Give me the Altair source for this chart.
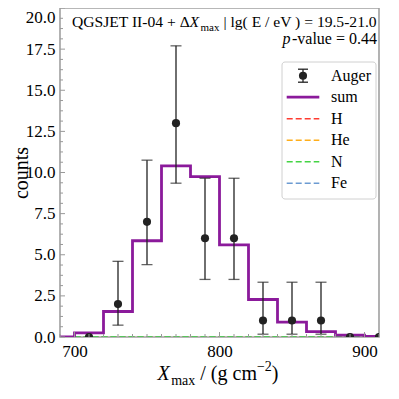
import altair as alt
import pandas as pd

# ---------------- data ----------------
bin_edges = [690, 700, 720, 740, 760, 780, 800, 820, 840, 860, 880, 900, 910]
sum_counts = [0.0, 0.25, 1.55, 5.85, 10.4, 9.75, 5.6, 2.28, 0.9, 0.33, 0.12, 0.03, 0.03]

comp_edges = [700, 720, 740, 760, 780, 800, 820, 840, 860, 880, 900, 910]
H_counts = [0.0] * 12
He_counts = [0.0] * 12
N_counts = [0.0] * 12
Fe_counts = [0.0] * 12

xmax_points = [710, 730, 750, 770, 790, 810, 830, 850, 870, 890, 910]
auger_counts = [0, 2, 7, 13, 6, 6, 1, 1, 1, 0, 0]
err_low = [0, 0.72, 4.4, 9.35, 3.5, 3.5, 0.17, 0.17, 0.17, 0, 0]
err_high = [0, 4.6, 10.75, 17.7, 9.65, 9.65, 3.33, 3.33, 3.33, 0, 0]

x_major = [700, 800, 900]
x_minor = [v for v in range(690, 911, 10) if v not in x_major]
y_major = [0, 2.5, 5, 7.5, 10, 12.5, 15, 17.5, 20]
y_minor = [i * 0.625 for i in range(33) if (i % 4) != 0]

legend_labels = ["Auger", "sum", "H", "He", "N", "Fe"]
legend_colors = ["#222222", "#8b1a9b", "#ff3b30", "#ffae1a", "#44d444", "#6c9bd2"]

TS = 15.6
title_line1 = [("QGSJET II-04 + Δ", "normal", TS, 0), ("X", "italic", TS, 0),
               ("max", "normal", 11, 4), (" | lg( E / eV ) = 19.5-21.0", "normal", TS, 0)]
title_line2 = [("p", "italic", 16, 0), ("-value = 0.44", "normal", 16, 0)]
xtitle_parts = [("X", "italic", 20, 0), ("max", "normal", 14, 5), (" / (g cm", "normal", 20, 0),
                ("−2", "normal", 14, -9), (")", "normal", 20, 0)]

# ---------------- layout ----------------
W, H = 319, 329
FONT = "Liberation Serif"
XDOM = [690, 910]
YDOM = [0, 20]

TIMES = {' ': 250, '(': 333, ')': 333, '+': 564, '-': 333, '.': 250, '/': 278, '=': 564,
         '|': 200, 'A': 722, 'E': 611, 'G': 722, 'I': 333, 'J': 389, 'Q': 722, 'S': 556,
         'T': 611, 'V': 722, 'X': 611, 'a': 444, 'c': 444, 'e': 444, 'g': 500, 'l': 278,
         'm': 778, 'p': 500, 'r': 333, 's': 389, 'u': 500, 'v': 500, 'x': 500, 'Δ': 612,
         '−': 564}


def tw(s, size):
    return sum(TIMES.get(c, 500) for c in s) * size / 1000.0


one = pd.DataFrame({"k": [0]})


def text_run(parts, x0, y0, color="black"):
    layers = []
    x = x0
    for s, style, size, dy in parts:
        stripped = s.lstrip(" ")
        lead = tw(s[:len(s) - len(stripped)], size)
        layers.append(
            alt.Chart(one).mark_text(text=stripped, font=FONT, fontSize=size, fontStyle=style,
                                     align="left", baseline="alphabetic", color=color)
            .encode(x=alt.value(x + lead), y=alt.value(y0 + dy)))
        x += tw(s, size) + (1.5 if style == "italic" else 0)
    return layers


def run_width(parts):
    return sum(tw(s, size) + (1.5 if st == "italic" else 0) for s, st, size, _ in parts)


xs = alt.Scale(domain=XDOM, nice=False, zero=False)
ys = alt.Scale(domain=YDOM, nice=False)

# ---------------- main marks ----------------
step_df = pd.DataFrame({"x": bin_edges, "y": sum_counts})
comp_frames = {
    "H": pd.DataFrame({"x": comp_edges, "y": H_counts}),
    "He": pd.DataFrame({"x": comp_edges, "y": He_counts}),
    "Fe": pd.DataFrame({"x": comp_edges, "y": Fe_counts}),
    "N": pd.DataFrame({"x": comp_edges, "y": N_counts}),
}
comp_color = dict(zip(legend_labels, legend_colors))

pts = pd.DataFrame({"x": xmax_points, "y": auger_counts, "lo": err_low, "hi": err_high})
bars = pts[pts["hi"] > 0]

base_x = alt.X("x:Q", scale=xs,
               axis=alt.Axis(values=x_major, ticks=False, domain=False, grid=False, title=None,
                             labelFont=FONT, labelFontSize=17, labelColor="black",
                             labelPadding=6, format="d", labelFlush=False))
base_y = alt.Y("y:Q", scale=ys,
               axis=alt.Axis(values=y_major, ticks=False, domain=False, grid=False, format=".1f",
                             labelFont=FONT, labelFontSize=17, labelColor="black", labelPadding=5,
                             labelBaseline={"condition": {"test": "datum.value >= 20", "value": "top"},
                                            "value": "middle"},
                             labelOffset={"condition": {"test": "datum.value >= 20", "value": 1},
                                          "value": 0},
                             title="counts", titleFont=FONT, titleFontSize=20,
                             titleFontWeight="normal", titleColor="black", titleX=-33,
                             titleY=H / 2, titleAngle=-90, titleBaseline="alphabetic",
                             labelFlush=False))

layers = []
for name in ["H", "He", "Fe", "N"]:
    layers.append(alt.Chart(comp_frames[name]).mark_line(
        interpolate="step-after", color=comp_color[name], strokeWidth=1.5,
        strokeDash=[6, 3], clip=True).encode(x=base_x, y=base_y))

layers.append(alt.Chart(step_df).mark_line(
    interpolate="step-after", color="#8b1a9b", strokeWidth=2.8, clip=True
).encode(x=base_x, y=base_y))

layers.append(alt.Chart(bars).mark_rule(color="#222222", strokeWidth=1.3).encode(
    x=alt.X("x:Q", scale=xs), y=alt.Y("lo:Q", scale=ys), y2="hi:Q"))
layers.append(alt.Chart(bars).mark_tick(orient="horizontal", color="#222222", size=11,
                                        thickness=1.3).encode(
    x=alt.X("x:Q", scale=xs), y=alt.Y("lo:Q", scale=ys)))
layers.append(alt.Chart(bars).mark_tick(orient="horizontal", color="#222222", size=11,
                                        thickness=1.3).encode(
    x=alt.X("x:Q", scale=xs), y=alt.Y("hi:Q", scale=ys)))
layers.append(alt.Chart(pts).mark_circle(color="#222222", size=66, opacity=1, clip=True).encode(
    x=alt.X("x:Q", scale=xs), y=alt.Y("y:Q", scale=ys)))

# inside ticks
TICKC = "#999999"
layers.append(alt.Chart(pd.DataFrame({"t": x_major})).mark_rule(color=TICKC, strokeWidth=1).encode(
    x=alt.X("t:Q", scale=xs), y=alt.value(H), y2=alt.value(H - 5)))
layers.append(alt.Chart(pd.DataFrame({"t": x_minor})).mark_rule(color=TICKC, strokeWidth=1).encode(
    x=alt.X("t:Q", scale=xs), y=alt.value(H), y2=alt.value(H - 3)))
layers.append(alt.Chart(pd.DataFrame({"t": y_major})).mark_rule(color=TICKC, strokeWidth=1).encode(
    y=alt.Y("t:Q", scale=ys), x=alt.value(0), x2=alt.value(5)))
layers.append(alt.Chart(pd.DataFrame({"t": y_minor})).mark_rule(color=TICKC, strokeWidth=1).encode(
    y=alt.Y("t:Q", scale=ys), x=alt.value(0), x2=alt.value(3)))

# ---------------- legend ----------------
LX0, LX1, LY0, LY1 = 222, 316, 54, 191
layers.append(alt.Chart(one).mark_rect(fill="white", fillOpacity=0.85, stroke="#d0d0d0",
                                       strokeWidth=1, cornerRadius=3).encode(
    x=alt.value(LX0), x2=alt.value(LX1), y=alt.value(LY0), y2=alt.value(LY1)))
row_y = [67.7 + 21.5 * i for i in range(6)]
SX0, SX1, TX = 226.7, 259.3, 271
for i, (lab, col) in enumerate(zip(legend_labels, legend_colors)):
    yc = row_y[i]
    if lab == "Auger":
        cx = (SX0 + SX1) / 2
        layers.append(alt.Chart(one).mark_rule(color=col, strokeWidth=1.3).encode(
            x=alt.value(cx), y=alt.value(yc - 6.5), y2=alt.value(yc + 6.5)))
        for dy in (-6.5, 6.5):
            layers.append(alt.Chart(one).mark_rule(color=col, strokeWidth=1.3).encode(
                x=alt.value(cx - 5), x2=alt.value(cx + 5), y=alt.value(yc + dy)))
        layers.append(alt.Chart(one).mark_circle(color=col, size=66, opacity=1).encode(
            x=alt.value(cx), y=alt.value(yc)))
    elif lab == "sum":
        layers.append(alt.Chart(one).mark_rule(color=col, strokeWidth=2.8).encode(
            x=alt.value(SX0), x2=alt.value(SX1), y=alt.value(yc)))
    else:
        layers.append(alt.Chart(one).mark_rule(color=col, strokeWidth=1.5, strokeDash=[6, 3]).encode(
            x=alt.value(SX0), x2=alt.value(SX1), y=alt.value(yc)))
    layers.append(alt.Chart(one).mark_text(text=lab, font=FONT, fontSize=16, align="left",
                                           baseline="middle", color="black").encode(
        x=alt.value(TX), y=alt.value(yc)))

# ---------------- annotation texts ----------------
RIGHT = 317
layers += text_run(title_line1, RIGHT - run_width(title_line1), 18.7)
layers += text_run(title_line2, RIGHT - run_width(title_line2), 36.3)
layers += text_run(xtitle_parts, 158 - run_width(xtitle_parts) / 2, 372)

chart = alt.layer(*layers).properties(
    width=W, height=H,
    autosize=alt.AutoSizeParams(type="none"),
    padding={"left": 52, "top": 0, "right": 12, "bottom": 50},
    background="white",
).configure_view(stroke="#a0a0a0", strokeWidth=1.6)

chart.save("out.html", embed_options={"renderer": "svg", "actions": False})
